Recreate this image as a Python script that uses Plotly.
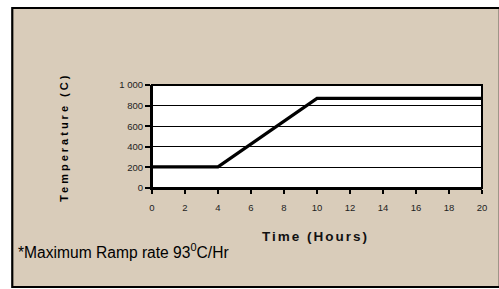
import plotly.graph_objects as go

# Data
time_hours = [0, 4, 10, 20]
temperature_c = [205, 205, 870, 870]
x_tick_vals = [0, 2, 4, 6, 8, 10, 12, 14, 16, 18, 20]
x_tick_text = ["0", "2", "4", "6", "8", "10", "12", "14", "16", "18", "20"]
y_tick_vals = [0, 200, 400, 600, 800, 1000]
y_tick_text = ["0", "200", "400", "600", "800", "1 000"]

W, H = 499, 289
L, R, T, B = 152, 14, 85, 101
pw, ph = W - L - R, H - T - B

def px(x):
    return (x - L) / pw

def py(y):
    return (H - B - y) / ph

fig = go.Figure()
fig.add_trace(go.Scatter(x=time_hours, y=temperature_c, mode="lines",
                         line=dict(color="black", width=3.2), hoverinfo="skip"))

tan = "#D9CCBA"
fig.add_shape(type="rect", xref="paper", yref="paper",
              x0=px(11), x1=px(503), y0=py(287), y1=py(8),
              fillcolor=tan, line=dict(color="black", width=2.2), layer="below")
fig.add_shape(type="rect", xref="paper", yref="paper",
              x0=0, x1=1, y0=0, y1=1,
              fillcolor="white", line=dict(color="black", width=2), layer="below")

fig.add_annotation(xref="paper", yref="paper", x=px(63), y=py(137),
                   text="<b><span style='letter-spacing:3px'>Temperature (C)</span></b>",
                   textangle=-90, showarrow=False,
                   font=dict(family="Liberation Sans", size=11, color="black"),
                   xanchor="center", yanchor="middle")
fig.add_annotation(xref="paper", yref="paper", x=px(317), y=py(236),
                   text="<b><span style='letter-spacing:2px'>Time (Hours)</span></b>", showarrow=False,
                   font=dict(family="Liberation Sans", size=13.5, color="#111"),
                   xanchor="center", yanchor="middle")
fig.add_annotation(xref="paper", yref="paper", x=px(15), y=py(251),
                   text="*Maximum Ramp rate 93<sup>0</sup>C/Hr", showarrow=False,
                   font=dict(family="Liberation Sans", size=15.6, color="black"),
                   xanchor="left", yanchor="middle")

fig.update_xaxes(range=[0, 20], tickvals=x_tick_vals, ticktext=x_tick_text,
                 ticks="outside", ticklen=4, tickwidth=1.5, tickcolor="black",
                 ticklabelstandoff=6,
                 showline=True, linecolor="black", linewidth=2,
                 showgrid=False, zeroline=False,
                 tickfont=dict(family="Liberation Sans", size=9.5, color="#222"),
                 fixedrange=True)
fig.update_yaxes(range=[0, 1000], tickvals=y_tick_vals, ticktext=y_tick_text,
                 ticks="outside", ticklen=5, tickwidth=1.5, tickcolor="black",
                 showline=True, linecolor="black", linewidth=2,
                 showgrid=True, gridcolor="black", gridwidth=1, zeroline=False,
                 tickfont=dict(family="Liberation Sans", size=9.5, color="#222"),
                 fixedrange=True)

fig.update_layout(width=W, height=H, margin=dict(l=L, r=R, t=T, b=B),
                  paper_bgcolor="white", plot_bgcolor="rgba(0,0,0,0)",
                  showlegend=False)

fig.write_html("out.html", config={"displayModeBar": False},
               post_script="document.body.style.margin='0px';document.body.style.overflow='hidden';")
